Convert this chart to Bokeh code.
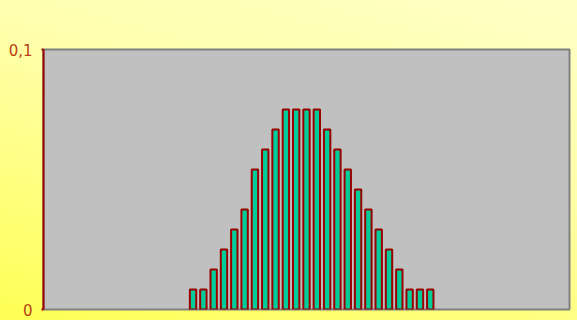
from bokeh.plotting import figure
from bokeh.models import ColumnDataSource, FixedTicker, Range1d, InlineStyleSheet
from bokeh.embed import file_html
from bokeh.resources import INLINE

# Outcome values (bins) and their relative frequencies
outcomes = [14, 15, 16, 17, 18, 19, 20, 21, 22, 23, 24, 25,
            26, 27, 28, 29, 30, 31, 32, 33, 34, 35, 36, 37]
frequencies = [0.0077, 0.0077, 0.0154, 0.0231, 0.0308, 0.0385, 0.0538, 0.0615,
               0.0692, 0.0769, 0.0769, 0.0769, 0.0769, 0.0692, 0.0615, 0.0538,
               0.0462, 0.0385, 0.0308, 0.0231, 0.0154, 0.0077, 0.0077, 0.0077]
y_ticks = [0, 0.1]
y_tick_labels = ["0", "0,1"]

source = ColumnDataSource(data=dict(x=outcomes, freq=frequencies))

page_bg = InlineStyleSheet(css=""":host {
  background: linear-gradient(195deg, #FFFFC6 0%, #FFFFAA 40%, #FFFF78 75%, #FFFF55 100%);
}""")

p = figure(
    width=577, height=320,
    x_range=Range1d(-0.5, 50.5), y_range=Range1d(0, 0.1),
    output_backend="svg", toolbar_location=None,
    min_border_left=43, min_border_right=8, min_border_top=49, min_border_bottom=11,
    background_fill_color="#C0C0C0",
    border_fill_alpha=0,
    outline_line_color="#808080", outline_line_width=2,
    stylesheets=[page_bg],
)

p.vbar(x="x", top="freq", width=0.62, bottom=0, source=source,
       fill_color="#00CC99", line_color="#990000", line_width=2)

p.xgrid.visible = False
p.ygrid.visible = False
p.xaxis.visible = False

yax = p.yaxis[0]
yax.ticker = FixedTicker(ticks=y_ticks)
yax.major_label_overrides = {t: s for t, s in zip(y_ticks, y_tick_labels)}
yax.axis_line_color = "#990000"
yax.axis_line_width = 2
yax.major_tick_line_color = "#990000"
yax.major_tick_line_width = 2
yax.major_tick_out = 2
yax.major_tick_in = 0
yax.minor_tick_line_color = None
yax.major_label_standoff = 9
yax.major_label_text_font = "DejaVu Sans"
yax.major_label_text_font_size = "15px"
yax.major_label_text_color = "#B84010"

open("out.html", "w").write(file_html(p, INLINE))
